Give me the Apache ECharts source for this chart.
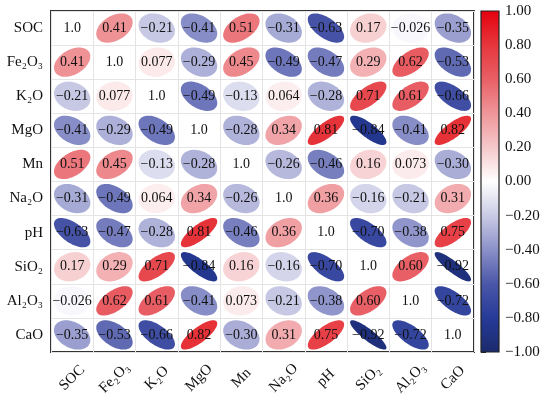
<!DOCTYPE html>
<html>
<head>
<meta charset="utf-8">
<script src="https://cdn.jsdelivr.net/npm/echarts@6/dist/echarts.min.js"></script>
<style>
  html, body { margin: 0; padding: 0; background: #fff; }
  #chart { width: 550px; height: 404px; }
</style>
</head>
<body>
<div id="chart"></div>
<script>
var names = ['SOC', 'Fe₂O₃', 'K₂O', 'MgO', 'Mn', 'Na₂O', 'pH', 'SiO₂', 'Al₂O₃', 'CaO'];

var corr = [
    [1.0, 0.41, -0.21, -0.41, 0.51, -0.31, -0.63, 0.17, -0.026, -0.35],
    [0.41, 1.0, 0.077, -0.29, 0.45, -0.49, -0.47, 0.29, 0.62, -0.53],
    [-0.21, 0.077, 1.0, -0.49, -0.13, 0.064, -0.28, 0.71, 0.61, -0.66],
    [-0.41, -0.29, -0.49, 1.0, -0.28, 0.34, 0.81, -0.84, -0.41, 0.82],
    [0.51, 0.45, -0.13, -0.28, 1.0, -0.26, -0.46, 0.16, 0.073, -0.30],
    [-0.31, -0.49, 0.064, 0.34, -0.26, 1.0, 0.36, -0.16, -0.21, 0.31],
    [-0.63, -0.47, -0.28, 0.81, -0.46, 0.36, 1.0, -0.70, -0.38, 0.75],
    [0.17, 0.29, 0.71, -0.84, 0.16, -0.16, -0.70, 1.0, 0.60, -0.92],
    [-0.026, 0.62, 0.61, -0.41, 0.073, -0.21, -0.38, 0.60, 1.0, -0.72],
    [-0.35, -0.53, -0.66, 0.82, -0.30, 0.31, 0.75, -0.92, -0.72, 1.0]
];

// colour ramp from -1 (navy) through 0 (white) to 1 (red)
var palette = ['#1b2a6b', '#263a98', '#4a56a8', '#8a90c8', '#c9cbe5', '#ffffff',
               '#f6c8ca', '#ef9599', '#e85f65', '#e6363c', '#e5000e'];

var FONT = 'Liberation Serif, Times New Roman, serif';

function fmt(v) {
    return v.toPrecision(2).replace('-', '−');
}

var cells = [];
for (var i = 0; i < corr.length; i++) {
    for (var j = 0; j < corr[i].length; j++) {
        cells.push([j, i, corr[i][j]]);
    }
}

function renderEllipse(params, api) {
    var xi = api.value(0), yi = api.value(1), r = api.value(2);
    var c = api.coord([xi, yi]);
    var s = api.size([1, 1]);
    var hw = s[0] / 2 * 0.86, hh = s[1] / 2 * 0.86;
    var children = [];
    if (xi !== yi) {
        var re = r * 0.95;
        var a = Math.sqrt(1 + re), b = Math.sqrt(1 - re);
        var pts = [];
        for (var k = 0; k < 72; k++) {
            var t = k / 72 * Math.PI * 2;
            var u = a * Math.cos(t), v = b * Math.sin(t);
            pts.push([c[0] + (u - v) / Math.SQRT2 * hw, c[1] - (u + v) / Math.SQRT2 * hh]);
        }
        children.push({
            type: 'polygon',
            shape: { points: pts },
            style: { fill: api.visual('color') }
        });
    }
    children.push({
        type: 'text',
        x: c[0], y: c[1],
        style: {
            text: fmt(r),
            fill: '#111',
            font: '14px ' + FONT,
            align: 'center',
            verticalAlign: 'middle'
        }
    });
    return { type: 'group', children: children };
}

function renderColorbar(params, api) {
    var top = api.coord([0, 1]);
    var bot = api.coord([1, -1]);
    var stops = [];
    for (var k = 0; k < palette.length; k++) {
        stops.push({ offset: k / (palette.length - 1), color: palette[palette.length - 1 - k] });
    }
    return {
        type: 'rect',
        shape: { x: top[0], y: top[1], width: bot[0] - top[0], height: bot[1] - top[1] },
        style: {
            fill: new echarts.graphic.LinearGradient(0, 0, 0, 1, stops),
            stroke: '#222',
            lineWidth: 1.2
        }
    };
}

var option = {
    backgroundColor: '#fff',
    animation: false,
    grid: [
        { left: 51, top: 11, width: 423, height: 341, show: true, borderColor: '#333', borderWidth: 2, backgroundColor: 'transparent' },
        { left: 481, top: 11, width: 18, height: 341 }
    ],
    xAxis: [
        {
            type: 'category', gridIndex: 0, data: names, position: 'bottom',
            axisLine: { show: false }, axisTick: { show: false },
            splitLine: { show: true, interval: 0, lineStyle: { color: '#e4e4e4', width: 1 } },
            axisLabel: {
                interval: 0, rotate: 45, margin: 26, align: 'center', verticalAlign: 'middle',
                color: '#111', fontFamily: FONT, fontSize: 15
            }
        },
        { type: 'value', gridIndex: 1, min: 0, max: 1, show: false }
    ],
    yAxis: [
        {
            type: 'category', gridIndex: 0, data: names, inverse: true,
            axisLine: { show: false }, axisTick: { show: false },
            splitLine: { show: true, interval: 0, lineStyle: { color: '#e4e4e4', width: 1 } },
            axisLabel: { interval: 0, margin: 8, color: '#111', fontFamily: FONT, fontSize: 15 }
        },
        {
            type: 'value', gridIndex: 1, min: -1, max: 1, interval: 0.2, position: 'right',
            axisLine: { show: false },
            axisTick: { show: true, length: 5, lineStyle: { color: '#222', width: 1 } },
            splitLine: { show: false },
            axisLabel: {
                margin: 6, color: '#111', fontFamily: FONT, fontSize: 15,
                formatter: function (v) {
                    if (Math.abs(v) < 1e-9) return '0.00';
                    return v.toFixed(2).replace('-', '−');
                }
            }
        }
    ],
    visualMap: {
        type: 'continuous', show: false, min: -1, max: 1, dimension: 2, seriesIndex: 0,
        inRange: { color: palette }
    },
    series: [
        {
            type: 'custom', xAxisIndex: 0, yAxisIndex: 0,
            renderItem: renderEllipse,
            data: cells
        },
        {
            type: 'custom', xAxisIndex: 1, yAxisIndex: 1,
            renderItem: renderColorbar,
            data: [[0, -1]]
        }
    ]
};

echarts.init(document.getElementById('chart')).setOption(option);
</script>
</body>
</html>
